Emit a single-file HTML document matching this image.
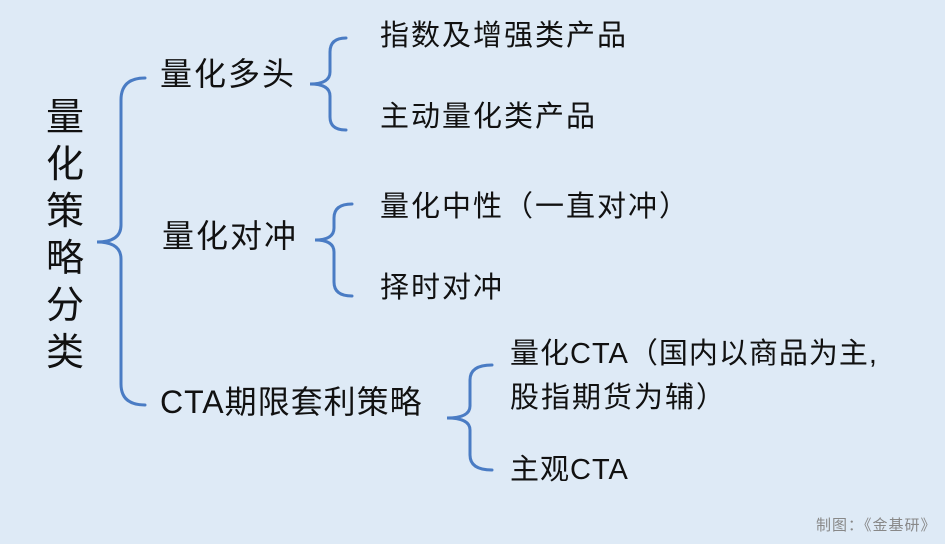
<!DOCTYPE html>
<html><head><meta charset="utf-8"><style>
html,body{margin:0;padding:0}
body{width:945px;height:544px;background:#deeaf6;position:relative;overflow:hidden;font-family:"Liberation Sans","Noto Sans CJK SC",sans-serif;color:#111}
.t{position:absolute;white-space:nowrap;line-height:1}
.m{font-size:32px;letter-spacing:2px}
.r{font-size:29px;letter-spacing:2px}
</style></head><body>
<svg width="945" height="544" style="position:absolute;left:0;top:0" fill="none" stroke="#4a7cc4" stroke-width="3" stroke-linecap="round">
<path d="M145 78 Q121 78 121 100 L121 225 Q121 242 97 242 Q121 242 121 259 L121 384 Q121 405 145 405"/>
<path d="M346 38 Q330 38 330 52 L330 72 Q330 84 310 84 Q330 84 330 96 L330 117 Q330 130 346 130"/>
<path d="M352 204 Q334 204 334 218 L334 228 Q334 240 315 240 Q334 240 334 252 L334 282 Q334 296 352 296"/>
<path d="M492 365 Q470 365 470 380 L470 406 Q470 418 447 418 Q470 418 470 430 L470 455 Q470 470 492 470"/>
</svg>
<div class="t" style="left:46px;top:95px;font-size:38px;line-height:47px;width:40px;white-space:normal">量<br>化<br>策<br>略<br>分<br>类</div>
<div class="t m" style="left:160px;top:58px">量化多头</div>
<div class="t m" style="left:162px;top:220px">量化对冲</div>
<div class="t m" style="left:160px;top:386px;letter-spacing:1px">CTA期限套利策略</div>
<div class="t r" style="left:380px;top:22px">指数及增强类产品</div>
<div class="t r" style="left:380px;top:103px">主动量化类产品</div>
<div class="t r" style="left:380px;top:193px">量化中性（一直对冲）</div>
<div class="t r" style="left:380px;top:274px">择时对冲</div>
<div class="t r" style="left:510px;top:340px;letter-spacing:1px">量化CTA（国内以商品为主,</div>
<div class="t r" style="left:510px;top:384px">股指期货为辅）</div>
<div class="t r" style="left:510px;top:456px;letter-spacing:1px">主观CTA</div>
<div class="t" style="left:816px;top:518px;font-size:15px;letter-spacing:1px;color:#888">制图：《金基研》</div>
</body></html>
